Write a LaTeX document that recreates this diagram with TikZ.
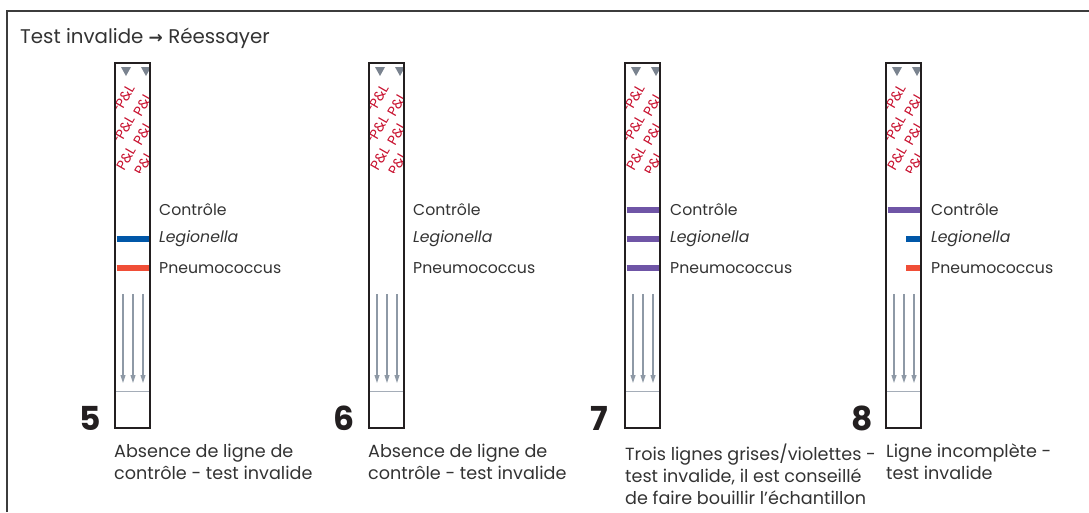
\documentclass[tikz,border=0pt]{standalone}
\usepackage{fontspec}
\setmainfont{Poppins}
\newfontfamily\arrowfont{DejaVu Sans}
\usetikzlibrary{arrows.meta}
\definecolor{framegray}{HTML}{3C3C3C}
\definecolor{stripblack}{HTML}{231F20}
\definecolor{textgray}{HTML}{333333}
\definecolor{markgray}{HTML}{7A838F}
\definecolor{flowgray}{HTML}{8E99A6}
\definecolor{logored}{HTML}{C8102E}
\definecolor{bandblue}{HTML}{0057A8}
\definecolor{bandred}{HTML}{F04E37}
\definecolor{bandpurple}{HTML}{6F55A6}

\tikzset{
  stripframe/.style={draw=stripblack,line width=2.6pt},
  band/.style={line width=6pt},
  flow/.style={draw=flowgray,line width=1.1pt,-{Triangle[length=8pt,width=5pt]}},
  divider/.style={draw=flowgray!80,line width=0.8pt},
  pllogo/.style={text=logored,font=\fontsize{14}{14}\selectfont,rotate=60,inner sep=0pt},
  lbl/.style={anchor=west,font=\fontsize{15.7}{17}\selectfont,text=textgray,inner sep=0pt},
  num/.style={anchor=base east,font=\fontsize{33}{33}\selectfont\bfseries,text=stripblack,inner sep=0pt},
  caption/.style={anchor=north west,align=left,font=\fontsize{17.6}{22}\selectfont,text=textgray,inner sep=0pt},
  pics/teststrip/.style={code={
    \fill[markgray] (6,67) -- (16,67) -- (11,76) -- cycle;
    \fill[markgray] (26,67) -- (36,67) -- (31,76) -- cycle;
    \begin{scope}
      \clip (1,80) rectangle (34,172);
      \node[pllogo] (-pl1) at (10,96) {P\&L};
      \node[pllogo] (-pl2) at (10,127) {P\&L};
      \node[pllogo] (-pl3) at (11,158) {P\&L};
      \node[pllogo] (-pl4) at (28,104) {P\&L};
      \node[pllogo] (-pl5) at (28,133) {P\&L};
      \node[pllogo] (-pl6) at (29,163) {P\&L};
      \node[pllogo] (-pl7) at (-7,114) {P\&L};
      \node[pllogo] (-pl8) at (-7,145) {P\&L};
    \end{scope}
    \draw[flow] (8,294) -- (8,383);
    \draw[flow] (18,294) -- (18,383);
    \draw[flow] (28,294) -- (28,383);
    \draw[divider] (0,391) -- (35,391);
    \draw[stripframe] (0,63) rectangle (35,428);
  }}
}

\begin{document}
\begin{tikzpicture}[x=1pt,y=-1pt]
  \useasboundingbox (0,0) rectangle (1089,512);
  \draw[framegray,line width=2pt] (7,512) -- (7,11) -- (1089,11);
  \node[anchor=base west,inner sep=0pt,text=textgray,font=\fontsize{19.8}{22}\selectfont] (title) at (20,43) {Test invalide {\arrowfont\bfseries\fontsize{17}{17}\selectfont →} Réessayer};

  % strip 5
  \pic (s5) at (115,0) {teststrip};
  \draw[band,bandblue] (116.5,239) -- (148.5,239);
  \draw[band,bandred] (116.5,268) -- (148.5,268);
  \node[lbl] (ctl5) at (159,210) {Contrôle};
  \node[lbl] (leg5) at (159,239) {\itshape Legionella};
  \node[lbl] (pne5) at (159,268) {Pneumococcus};
  \node[num] (n5) at (101,430) {5};
  \node[caption] (c5) at (114,444) {Absence de ligne de\\contrôle - test invalide};

  % strip 6
  \pic (s6) at (369,0) {teststrip};
  \node[lbl] (ctl6) at (413,210) {Contrôle};
  \node[lbl] (leg6) at (413,239) {\itshape Legionella};
  \node[lbl] (pne6) at (413,268) {Pneumococcus};
  \node[num] (n6) at (355,430) {6};
  \node[caption] (c6) at (368,444) {Absence de ligne de\\contrôle - test invalide};

  % strip 7
  \pic (s7) at (625,0) {teststrip};
  \draw[band,bandpurple] (626.5,210) -- (658.5,210);
  \draw[band,bandpurple] (626.5,239) -- (658.5,239);
  \draw[band,bandpurple] (626.5,268) -- (658.5,268);
  \node[lbl] (ctl7) at (670,210) {Contrôle};
  \node[lbl] (leg7) at (670,239) {\itshape Legionella};
  \node[lbl] (pne7) at (670,268) {Pneumococcus};
  \node[num] (n7) at (608,430) {7};
  \node[caption] (c7) at (625,444) {Trois lignes grises/violettes -\\test invalide, il est conseillé\\de faire bouillir l'échantillon};

  % strip 8
  \pic (s8) at (886,0) {teststrip};
  \draw[band,bandpurple] (887.5,210) -- (919.5,210);
  \draw[band,bandblue] (906,239) -- (919.5,239);
  \draw[band,bandred] (906,268) -- (919.5,268);
  \node[lbl] (ctl8) at (931,210) {Contrôle};
  \node[lbl] (leg8) at (931,239) {\itshape Legionella};
  \node[lbl] (pne8) at (931,268) {Pneumococcus};
  \node[num] (n8) at (873,430) {8};
  \node[caption] (c8) at (886,444) {Ligne incomplète -\\test invalide};
\end{tikzpicture}
\end{document}
